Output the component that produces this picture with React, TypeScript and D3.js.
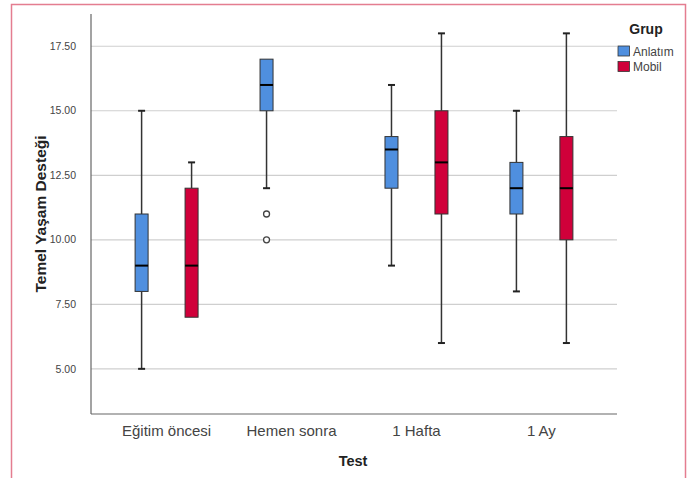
import * as d3 from "d3";

// test moments (x categories) and groups
const tests = ["Eğitim öncesi", "Hemen sonra", "1 Hafta", "1 Ay"];
const groups = ["Anlatım", "Mobil"];
const groupColors = ["#4f8fdf", "#d0003a"];

// box stats per group, one entry per test (null = no data)
// [min, q1, median, q3, max]
const anlatimStats = [
  [5, 8, 9, 11, 15],
  [12, 15, 16, 17, 17],
  [9, 12, 13.5, 14, 16],
  [8, 11, 12, 13, 15],
];
const mobilStats = [
  [7, 7, 9, 12, 13],
  null,
  [6, 11, 13, 15, 18],
  [6, 10, 12, 14, 18],
];
// outliers: [testIndex, value]
const anlatimOutliers = [
  [1, 11],
  [1, 10],
];
const mobilOutliers: number[][] = [];

const yTicks = [5, 7.5, 10, 12.5, 15, 17.5];

const W = 690;
const H = 478;
const plot = { left: 91, right: 617, top: 14, bottom: 414 };

function App() {
  const x = d3
    .scaleBand()
    .domain(tests)
    .range([plot.left, plot.right])
    .paddingInner(0)
    .paddingOuter(0.105);

  const xg = d3
    .scalePoint()
    .domain(groups)
    .range([0, x.bandwidth()])
    .padding(0.75);

  const y = d3.scaleLinear().domain([3.25, 18.75]).range([plot.bottom, plot.top]);

  const boxW = 13;
  const capW = 7;

  const series = [
    { name: groups[0], stats: anlatimStats, outliers: anlatimOutliers, color: groupColors[0] },
    { name: groups[1], stats: mobilStats, outliers: mobilOutliers, color: groupColors[1] },
  ];

  return (
    <svg
      width={W}
      height={H}
      style={{ position: "absolute", left: 0, top: 0, fontFamily: "Arial, 'Liberation Sans', sans-serif" }}
    >
      <rect x={0} y={0} width={W} height={H} fill="#fff" />
      {/* outer pink frame */}
      <rect x={11.5} y={4.5} width={674} height={H + 10} fill="none" stroke="#e47d90" strokeWidth={1.5} />

      {/* gridlines */}
      {yTicks.map((t) => (
        <line key={t} x1={plot.left} x2={plot.right} y1={y(t)} y2={y(t)} stroke="#cfcfcf" strokeWidth={1.2} />
      ))}

      {/* axes */}
      <line x1={plot.left} x2={plot.left} y1={plot.top} y2={plot.bottom} stroke="#666" strokeWidth={1.2} />
      <line x1={plot.left} x2={plot.right} y1={plot.bottom} y2={plot.bottom} stroke="#666" strokeWidth={1.2} />

      {yTicks.map((t) => (
        <text key={t} x={76} y={y(t)} dy="0.35em" textAnchor="end" fontSize={10.5} fill="#444">
          {d3.format(".2f")(t)}
        </text>
      ))}

      {tests.map((t) => (
        <text key={t} x={(x(t) as number) + x.bandwidth() / 2} y={436} textAnchor="middle" fontSize={15} fill="#444">
          {t}
        </text>
      ))}

      <text x={353} y={466} textAnchor="middle" fontSize={14.5} fontWeight="bold" fill="#222">
        Test
      </text>
      <text
        transform={`translate(46,${(plot.top + plot.bottom) / 2}) rotate(-90)`}
        textAnchor="middle"
        fontSize={15.5}
        fontWeight="bold"
        fill="#222"
      >
        Temel Yaşam Desteği
      </text>

      {/* boxes */}
      {series.map((s) =>
        s.stats.map((st, i) => {
          if (!st) return null;
          const cx = (x(tests[i]) as number) + (xg(s.name) as number);
          const [mn, q1, md, q3, mx] = st;
          return (
            <g key={s.name + i}>
              <line x1={cx} x2={cx} y1={y(mx)} y2={y(q3)} stroke="#333" strokeWidth={1.5} />
              <line x1={cx} x2={cx} y1={y(q1)} y2={y(mn)} stroke="#333" strokeWidth={1.5} />
              {mx > q3 && (
                <line x1={cx - capW / 2} x2={cx + capW / 2} y1={y(mx)} y2={y(mx)} stroke="#222" strokeWidth={2} />
              )}
              {mn < q1 && (
                <line x1={cx - capW / 2} x2={cx + capW / 2} y1={y(mn)} y2={y(mn)} stroke="#222" strokeWidth={2} />
              )}
              <rect
                x={cx - boxW / 2}
                y={y(q3)}
                width={boxW}
                height={y(q1) - y(q3)}
                fill={s.color}
                stroke="#333"
                strokeWidth={1}
              />
              <line x1={cx - boxW / 2} x2={cx + boxW / 2} y1={y(md)} y2={y(md)} stroke="#000" strokeWidth={2} />
            </g>
          );
        })
      )}

      {/* outliers */}
      {series.map((s) =>
        s.outliers.map(([i, v], k) => (
          <circle
            key={s.name + "o" + k}
            cx={(x(tests[i]) as number) + (xg(s.name) as number)}
            cy={y(v)}
            r={3}
            fill="#fff"
            stroke="#444"
            strokeWidth={1.3}
          />
        ))
      )}

      {/* legend */}
      <text x={646} y={34} textAnchor="middle" fontSize={14} fontWeight="bold" fill="#222">
        Grup
      </text>
      {groups.map((g, i) => (
        <g key={g} transform={`translate(618,${46 + i * 15.5})`}>
          <rect x={0} y={0} width={11.5} height={10} fill={groupColors[i]} stroke="#333" strokeWidth={0.8} />
          <text x={15} y={9.5} fontSize={12} fill="#444">
            {g}
          </text>
        </g>
      ))}
    </svg>
  );
}

export default App;
